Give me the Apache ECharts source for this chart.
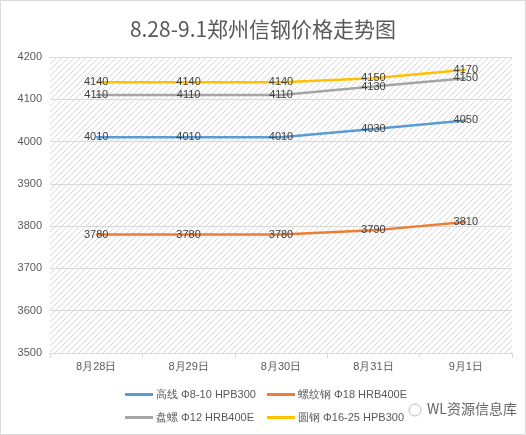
<!DOCTYPE html><html><head><meta charset="utf-8"><script src="https://cdn.jsdelivr.net/npm/echarts@6/dist/echarts.min.js"></script></head><body style="margin:0;background:#fff"><div id="c" style="width:526px;height:435px;"></div><script>
const categories=['8月28日','8月29日','8月30日','8月31日','9月1日'];
const gaoxian=[4010,4010,4010,4030,4050];
const luowen=[3780,3780,3780,3790,3810];
const panluo=[4110,4110,4110,4130,4150];
const yuangang=[4140,4140,4140,4150,4170];
const names=['高线 Φ8-10 HPB300','螺纹钢 Φ18 HRB400E','盘螺 Φ12 HRB400E','圆钢 Φ16-25 HPB300'];
const colors=['#5b9bd5','#ed7d31','#a5a5a5','#ffc000'];
const cv=document.createElement('canvas');cv.width=6;cv.height=6;const g=cv.getContext('2d');
g.strokeStyle='#d9d9d9';g.lineWidth=1;g.beginPath();g.moveTo(0,6);g.lineTo(6,0);g.moveTo(-1,1);g.lineTo(1,-1);g.moveTo(5,7);g.lineTo(7,5);g.stroke();
const ch=echarts.init(document.getElementById('c'));
const mk=(n,d,i)=>({name:n,type:'line',data:d,symbol:'circle',symbolSize:1,showSymbol:true,lineStyle:{width:2.5,color:colors[i]},itemStyle:{color:colors[i]},
 label:{show:true,position:'inside',color:'#404040',fontSize:11,fontFamily:'Liberation Sans'}});
const lg=(l,t,arr)=>({orient:'vertical',left:l,top:t,padding:0,itemWidth:28,itemHeight:3,itemGap:12,icon:'rect',textStyle:{color:'#595959',fontSize:11,padding:[0,0,0,-2]},data:arr});
ch.setOption({
 title:{text:'8.28-9.1郑州信钢价格走势图',left:'center',top:14,textStyle:{fontSize:21,fontWeight:'normal',color:'#595959',fontFamily:'Noto Sans CJK SC'}},
 grid:{left:50,right:14,top:57,bottom:82,show:true,backgroundColor:{image:cv,repeat:'repeat'},borderWidth:0},
 xAxis:{type:'category',data:categories,boundaryGap:true,axisLine:{lineStyle:{color:'#d9d9d9'}},axisTick:{show:true,lineStyle:{color:'#d9d9d9'}},axisLabel:{color:'#595959',fontSize:11}},
 yAxis:{type:'value',min:3500,max:4200,interval:100,axisLine:{show:false},splitLine:{lineStyle:{color:'#d9d9d9'}},axisLabel:{color:'#595959',fontSize:11,fontFamily:'Liberation Sans',formatter:v=>String(v)}},
 legend:[lg(125,389,[names[0],names[2]]),lg(267,389,[names[1],names[3]])],
 graphic:[{type:'text',left:427,top:402,style:{text:'WL资源信息库',fill:'#666',font:'14px Noto Sans CJK SC'}},
  {type:'circle',shape:{cx:415,cy:410,r:6},style:{fill:'none',stroke:'#bbb',lineWidth:1}},
  {type:'rect',shape:{x:0.5,y:0.5,width:525,height:434},style:{fill:'none',stroke:'#d9d9d9'}}],
 series:[mk(names[0],gaoxian,0),mk(names[1],luowen,1),mk(names[2],panluo,2),mk(names[3],yuangang,3)]
});
</script></body></html>
